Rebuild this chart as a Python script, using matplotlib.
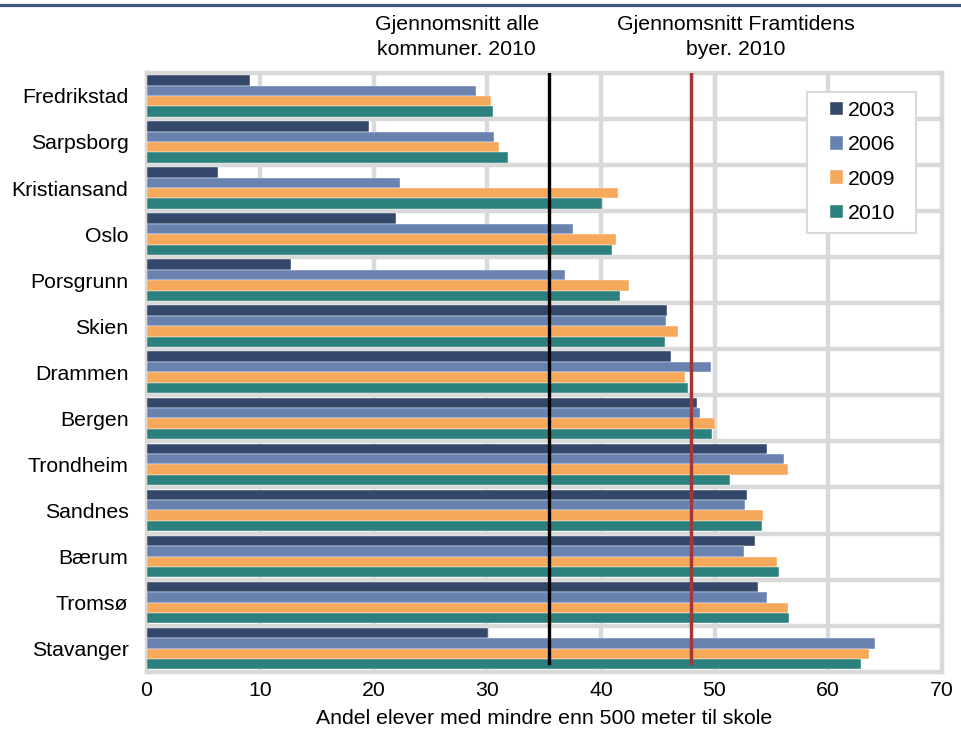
import numpy as np
import matplotlib
matplotlib.use("Agg")
import matplotlib.pyplot as plt
import matplotlib.transforms as mtransforms
from matplotlib.lines import Line2D
from matplotlib.patches import Rectangle

plt.rcParams['font.family'] = ['Liberation Sans', 'DejaVu Sans']

cities = ['Fredrikstad', 'Sarpsborg', 'Kristiansand', 'Oslo', 'Porsgrunn', 'Skien',
          'Drammen', 'Bergen', 'Trondheim', 'Sandnes', 'Bærum', 'Tromsø', 'Stavanger']
years = ['2003', '2006', '2009', '2010']
v2003 = [9.1, 19.6, 6.3, 22.0, 12.7, 45.8, 46.2, 48.5, 54.6, 52.9, 53.6, 53.8, 30.1]
v2006 = [29.0, 30.6, 22.3, 37.5, 36.8, 45.7, 49.7, 48.7, 56.1, 52.7, 52.6, 54.6, 64.1]
v2009 = [30.3, 31.0, 41.5, 41.3, 42.5, 46.8, 47.4, 50.0, 56.5, 54.3, 55.5, 56.5, 63.6]
v2010 = [30.5, 31.8, 40.1, 41.0, 41.7, 45.6, 47.7, 49.8, 51.4, 54.2, 55.7, 56.6, 62.9]
avg_all = 35.4
avg_framtid = 47.9
label_all = 'Gjennomsnitt alle\nkommuner. 2010'
label_framtid = 'Gjennomsnitt Framtidens\nbyer. 2010'
xlabel = 'Andel elever med mindre enn 500 meter til skole'

colors = ['#34486b', '#6a82b0', '#f6a95b', '#2c807e']
grid_col = '#d9d9d9'
fs = 15.3
W, H = 962, 740

fig = plt.figure(figsize=(W / 100, H / 100), dpi=100)
ax = fig.add_axes([0.1523, 0.0923, 0.8266, 0.8092])

y = np.arange(len(cities))
h = 0.226
series = [v2003, v2006, v2009, v2010]
for i, (vals, yr) in enumerate(zip(series, years)):
    ax.barh(y + (i - 1.5) * h, vals, height=h, color=colors[i], label=yr,
            edgecolor='white', linewidth=0.3, zorder=3)

ax.set_xlim(0, 70)
ax.set_ylim(len(cities) - 0.5, -0.5)

# grid: vertical at ticks, horizontal between cities
for gx in range(10, 70, 10):
    ax.axvline(gx, color=grid_col, lw=3.2, zorder=1)
for gy in np.arange(0.5, len(cities) - 0.5, 1):
    ax.axhline(gy, color=grid_col, lw=3.2, zorder=1)

for s in ax.spines.values():
    s.set_color(grid_col)
    s.set_linewidth(3.2)

ax.axvline(avg_all, ymin=0.0145, ymax=1, color='black', lw=2.4, zorder=4)
ax.axvline(avg_framtid, ymin=0.0145, ymax=1, color='#a3373a', lw=2.5, zorder=4)

ax.set_yticks(y)
ax.set_yticklabels(cities, fontsize=fs)
ax.set_xticks(range(0, 71, 10))
ax.tick_params(axis='both', length=0, labelsize=fs)
ax.tick_params(axis='y', pad=13)
ax.tick_params(axis='x', pad=7)
ax.set_xlabel(xlabel, fontsize=fs, labelpad=6)

trans = mtransforms.blended_transform_factory(ax.transData, fig.transFigure)
ax.text(27.3, 0.95, label_all, transform=trans, ha='center', va='center',
        fontsize=fs, linespacing=1.4)
ax.text(51.9, 0.95, label_framtid, transform=trans, ha='center', va='center',
        fontsize=fs, linespacing=1.4)

# legend entries without frame, frame drawn separately (wider side padding)
leg = ax.legend(loc='upper left', bbox_to_anchor=(0.8595, 0.953), fontsize=fs,
                handlelength=0.6, handleheight=0.6, handletextpad=0.25,
                labelspacing=0.72, borderpad=0, borderaxespad=0, frameon=False)
leg.set_zorder(6)
ax.add_patch(Rectangle((807 / W, 1 - 233 / H), 109 / W, 141 / H,
                       transform=fig.transFigure, facecolor='white',
                       edgecolor=grid_col, lw=1.5, zorder=5, clip_on=False))

# top band
fig.add_artist(Line2D([0, 1], [1 - 4.5 / H, 1 - 4.5 / H], transform=fig.transFigure,
                      color='#41587f', lw=2.3))

fig.savefig('out.png', dpi=100)
